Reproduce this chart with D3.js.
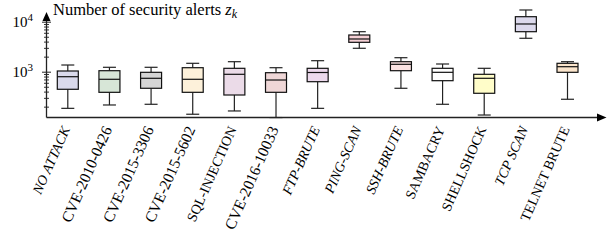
<!DOCTYPE html>
<html>
<head>
<meta charset="utf-8">
<script src="https://cdn.jsdelivr.net/npm/d3@7"></script>
<style>
  body { margin: 0; background: #fff; }
</style>
</head>
<body>
<script>
// categories on the x axis
var categories = ["NO ATTACK", "CVE-2010-0426", "CVE-2015-3306", "CVE-2015-5602",
  "SQL-INJECTION", "CVE-2016-10033", "FTP-BRUTE", "PING-SCAN", "SSH-BRUTE",
  "SAMBACRY", "SHELLSHOCK", "TCP SCAN", "TELNET BRUTE"];

// box plot stats (number of alerts)
var whiskerLow  = [185, 216, 223, 141, 164, 121, 185, 2940, 466, 223, 136, 4660, 281];
var quartile1   = [445, 387, 466, 387, 342, 387, 631, 3870, 1047, 661, 370, 6310, 972];
var medians     = [794, 705, 738, 705, 887, 682, 964, 4510, 1406, 972, 738, 9000, 1259];
var quartile3   = [1033, 1047, 972, 1202, 1169, 955, 1169, 5420, 1585, 1169, 887, 12590, 1472];
var whiskerHigh = [1361, 1225, 1225, 1472, 1585, 1202, 1660, 6310, 1905, 1426, 1169, 17140, 1585];

var fills = ["#dadaec", "#d7e6d7", "#d5d5d5", "#fdf1da", "#ebdbe8", "#efd7d7", "#ecd9ec",
  "#f5d0d5", "#fbe3e3", "#ffffff", "#fffdc9", "#dcd9ec", "#fbe5cc"];

var italicLabels = ["NO ATTACK", "FTP-BRUTE", "PING-SCAN", "SSH-BRUTE", "TCP SCAN"];

var data = categories.map(function(c, i) {
  return { name: c, lo: whiskerLow[i], q1: quartile1[i], med: medians[i],
           q3: quartile3[i], hi: whiskerHigh[i], fill: fills[i] };
});

var width = 607, height = 248;
var axisX = 46.5, axisY = 117.5;
var serif = "'Liberation Serif'";

var svg = d3.select("body").append("svg")
  .attr("width", width)
  .attr("height", height);

var x = d3.scalePoint()
  .domain(categories)
  .range([67.8, 567.5]);

var y = d3.scaleLog()
  .domain([Math.pow(10, 2.084), Math.pow(10, 4.194)])
  .range([axisY, 12]);

var boxW = 21, capW = 13;

// boxes
var g = svg.selectAll(".box")
  .data(data)
  .enter().append("g")
  .attr("class", "box")
  .attr("transform", function(d) { return "translate(" + x(d.name) + ",0)"; });

g.append("line")
  .attr("x1", 0).attr("x2", 0)
  .attr("y1", function(d) { return y(d.hi); })
  .attr("y2", function(d) { return y(d.q3); })
  .attr("stroke", "#222").attr("stroke-width", 1.2);
g.append("line")
  .attr("x1", 0).attr("x2", 0)
  .attr("y1", function(d) { return y(d.q1); })
  .attr("y2", function(d) { return y(d.lo); })
  .attr("stroke", "#222").attr("stroke-width", 1.2);
g.append("line")
  .attr("x1", -capW / 2).attr("x2", capW / 2)
  .attr("y1", function(d) { return y(d.hi); })
  .attr("y2", function(d) { return y(d.hi); })
  .attr("stroke", "#222").attr("stroke-width", 1.2);
g.append("line")
  .attr("x1", -capW / 2).attr("x2", capW / 2)
  .attr("y1", function(d) { return y(d.lo); })
  .attr("y2", function(d) { return y(d.lo); })
  .attr("stroke", "#222").attr("stroke-width", 1.2);
g.append("rect")
  .attr("x", -boxW / 2)
  .attr("width", boxW)
  .attr("y", function(d) { return y(d.q3); })
  .attr("height", function(d) { return y(d.q1) - y(d.q3); })
  .attr("fill", function(d) { return d.fill; })
  .attr("stroke", "#111").attr("stroke-width", 1.2);
g.append("line")
  .attr("x1", -boxW / 2).attr("x2", boxW / 2)
  .attr("y1", function(d) { return y(d.med); })
  .attr("y2", function(d) { return y(d.med); })
  .attr("stroke", "#111").attr("stroke-width", 1.2);

// y axis with log ticks centered on the axis line
var minorTicks = [];
[100, 1000].forEach(function(b) {
  for (var k = 2; k <= 9; k++) {
    var v = b * k;
    if (v >= y.domain()[0]) minorTicks.push(v);
  }
});

var yAxisG = svg.append("g")
  .attr("transform", "translate(" + axisX + ",0)")
  .call(d3.axisLeft(y).tickValues(minorTicks).tickSize(2.5).tickFormat(""));
yAxisG.select(".domain").remove();
yAxisG.selectAll(".tick line").attr("x2", 2.5).attr("x1", -2.5).attr("stroke", "#333");

var yMajor = svg.append("g")
  .attr("transform", "translate(" + axisX + ",0)")
  .call(d3.axisLeft(y).tickValues([1000, 10000]).tickSize(4).tickFormat(""));
yMajor.select(".domain").remove();
yMajor.selectAll(".tick line").attr("x2", 4.5).attr("x1", -4.5).attr("stroke", "#222");

// axis lines and arrows
svg.append("line")
  .attr("x1", axisX).attr("x2", axisX)
  .attr("y1", axisY).attr("y2", 18)
  .attr("stroke", "#222").attr("stroke-width", 1.3);
svg.append("path")
  .attr("d", "M" + axisX + ",12 L" + (axisX - 4) + ",21 L" + (axisX + 4) + ",21 Z")
  .attr("fill", "#000");
svg.append("line")
  .attr("x1", axisX).attr("x2", 598)
  .attr("y1", axisY).attr("y2", axisY)
  .attr("stroke", "#222").attr("stroke-width", 1.3);
svg.append("path")
  .attr("d", "M606.5," + axisY + " L597," + (axisY - 4) + " L597," + (axisY + 4) + " Z")
  .attr("fill", "#000");

// y tick labels 10^3 and 10^4
[1000, 10000].forEach(function(v) {
  var t = svg.append("text")
    .attr("x", 33)
    .attr("y", y(v) + 5)
    .attr("text-anchor", "end")
    .style("font-family", serif)
    .style("font-size", "15px")
    .attr("fill", "#000");
  t.append("tspan").text("10");
  t.append("tspan")
    .attr("dy", -6)
    .style("font-size", "11px")
    .text(Math.round(Math.log10(v)));
});

// axis title
var title = svg.append("text")
  .attr("x", 53)
  .attr("y", 15)
  .style("font-family", serif)
  .style("font-size", "16.5px")
  .attr("fill", "#000");
title.append("tspan").text("Number of security alerts ");
title.append("tspan").style("font-style", "italic").text("z");
title.append("tspan").attr("dy", 3).style("font-style", "italic").style("font-size", "12px").text("k");

// rotated category labels
svg.selectAll(".xlab")
  .data(categories)
  .enter().append("text")
  .attr("class", "xlab")
  .attr("text-anchor", "end")
  .style("font-family", serif)
  .attr("transform", function(d) { return "translate(" + (x(d) - 2) + ",127) rotate(-66)"; })
  .attr("dy", "0.35em")
  .style("font-size", function(d) { return d.indexOf("CVE") === 0 ? "15.5px" : "14px"; })
  .style("font-style", function(d) { return italicLabels.indexOf(d) >= 0 ? "italic" : "normal"; })
  .attr("fill", "#000")
  .text(function(d) { return d; });
</script>
</body>
</html>
